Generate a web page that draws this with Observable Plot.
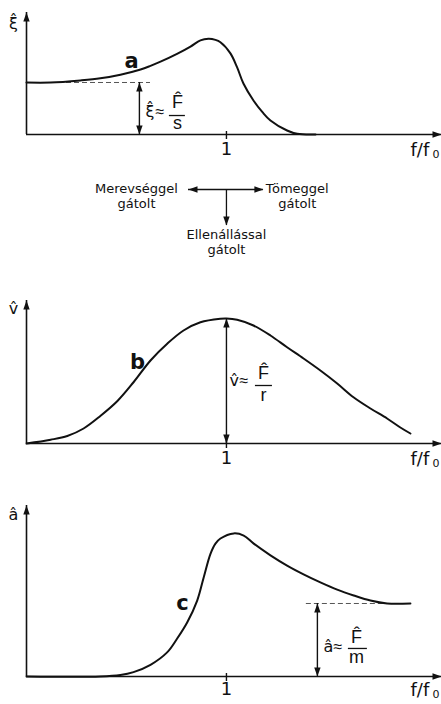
<!DOCTYPE html>
<html>
<head>
<meta charset="utf-8">
<script src="https://cdn.jsdelivr.net/npm/d3@7"></script>
<script src="https://cdn.jsdelivr.net/npm/@observablehq/plot@0.6"></script>
<style>
  html, body { margin: 0; padding: 0; background: #fff; }
  #chart { width: 441px; }
  #chart svg { display: block; }
</style>
</head>
<body>
<div id="chart"></div>
<script>
// Forced vibration response versus frequency ratio f/f0 (log axis).
// a: displacement amplitude, b: velocity amplitude, c: acceleration amplitude.
const fDisp = [0.1, 0.132, 0.186, 0.234, 0.295, 0.372, 0.417, 0.468, 0.566, 0.661, 0.741, 0.813, 0.881, 0.933, 1.047, 1.131, 1.216, 1.365, 1.514, 1.66, 2.01, 2.26, 2.79];
const dispAmp = [1.0, 1.0, 1.04, 1.08, 1.15, 1.25, 1.32, 1.40, 1.55, 1.69, 1.81, 1.84, 1.82, 1.775, 1.56, 1.29, 0.98, 0.654, 0.43, 0.27, 0.077, 0.013, 0];

const fVel = [0.1, 0.132, 0.16, 0.193, 0.234, 0.285, 0.343, 0.417, 0.507, 0.61, 0.741, 0.933, 1, 1.131, 1.365, 1.66, 2.01, 2.43, 2.95, 3.58, 4.32, 5.25, 6.36, 7.41, 8.32];
const velAmp = [0, 0.03, 0.06, 0.12, 0.22, 0.34, 0.49, 0.664, 0.80, 0.904, 0.97, 0.998, 1.0, 0.99, 0.944, 0.864, 0.77, 0.68, 0.584, 0.48, 0.37, 0.28, 0.2, 0.128, 0.08];

const fAcc = [0.1, 0.234, 0.295, 0.343, 0.417, 0.505, 0.567, 0.636, 0.714, 0.77, 0.832, 0.881, 0.933, 1.088, 1.22, 1.369, 1.66, 2.01, 2.43, 2.95, 3.58, 4.33, 5.25, 6.36, 8.32];
const accAmp = [0, 0, 0.02, 0.06, 0.16, 0.33, 0.52, 0.74, 1.04, 1.36, 1.68, 1.82, 1.89, 1.96, 1.93, 1.82, 1.66, 1.52, 1.40, 1.29, 1.19, 1.11, 1.04, 1.0, 1.0];

const tickValues = [1];
const tickLabels = ["1"];
const xLabel = "f/f";
const xLabelSub = "0";
const yLabels = ["ξ̂", "v̂", "â"];
const curveNames = ["a", "b", "c"];
const formulaSymbol = ["ξ̂", "v̂", "â"];
const formulaRel = "≈";
const formulaNum = "F̂";
const formulaDen = ["s", "r", "m"];
const regionLabels = ["Merevséggel\ngátolt", "Tömeggel\ngátolt", "Ellenállással\ngátolt"];

const W = 441;
const fMin = 0.1, fMax = 11.9;
const ink = "#111";
const FONT = "'DejaVu Sans', 'Liberation Sans', sans-serif";
const MATH = "'Liberation Sans', Arial, sans-serif";

// filled arrowhead with its tip at the origin, pointing up
const arrowHead = {
  draw(context) {
    context.moveTo(0, 0);
    context.lineTo(3.2, 9);
    context.lineTo(-3.2, 9);
    context.closePath();
  }
};

const rows = (xs, ys) => xs.map((f, i) => ({f, v: ys[i]}));

function heads(points) {
  return Plot.dot(points, {x: "f", y: "v", rotate: "a", symbol: arrowHead, r: 3, fill: ink, stroke: "none"});
}

function frame(yMax, labelDy) {
  return [
    Plot.ruleX([{f: fMin, y1: 0, y2: yMax}], {x: "f", y1: "y1", y2: "y2", stroke: ink, strokeWidth: 1.6}),
    Plot.ruleY([{v: 0, x1: fMin, x2: fMax}], {y: "v", x1: "x1", x2: "x2", stroke: ink, strokeWidth: 1.6}),
    heads([{f: fMin, v: yMax, a: 0}, {f: fMax, v: 0, a: 90}]),
    Plot.ruleX(tickValues.map(f => ({f, v: 0})), {x: "f", y1: "v", y2: "v", insetTop: -3, insetBottom: -5, stroke: ink, strokeWidth: 1.4}),
    Plot.text(tickValues.map((f, i) => ({f, v: 0, t: tickLabels[i]})), {x: "f", y: "v", text: "t", dy: labelDy, fontSize: 18}),
    Plot.text([{f: fMax, v: 0, t: xLabel}], {x: "f", y: "v", text: "t", textAnchor: "start", dx: -31, dy: labelDy + 1, fontSize: 18}),
    Plot.text([{f: fMax, v: 0, t: xLabelSub}], {x: "f", y: "v", text: "t", textAnchor: "start", dx: -9, dy: labelDy + 5, fontSize: 11})
  ];
}

function measure(f, v) {
  return [
    Plot.ruleX([{f, y1: 0, y2: v}], {x: "f", y1: "y1", y2: "y2", stroke: ink, strokeWidth: 1.4}),
    heads([{f, v, a: 0}, {f, v: 0, a: 180}])
  ];
}

function formula(i, f, v, o) {
  const at = [{f, v}];
  return [
    Plot.text(at, {x: "f", y: "v", text: () => formulaSymbol[i], textAnchor: "start", dx: o.dxL, dy: o.dyL, fontSize: 16}),
    Plot.text(at, {x: "f", y: "v", text: () => formulaRel, textAnchor: "start", dx: o.dxL + 10, dy: o.dyL, fontSize: 16, fontFamily: MATH}),
    Plot.text(at, {x: "f", y: "v", text: () => formulaNum, dx: o.dxF, dy: o.dyNum, fontSize: 18, fontFamily: MATH}),
    Plot.ruleY(at, {y: "v", x1: "f", x2: "f", insetLeft: o.barL, insetRight: -o.barR, stroke: ink, strokeWidth: 1.3}),
    Plot.text(at, {x: "f", y: "v", text: () => formulaDen[i], dx: o.dxF, dy: o.dyDen, fontSize: 18, fontFamily: MATH})
  ];
}

function panel(i, o) {
  return Plot.plot({
    width: W, height: o.height,
    marginLeft: 26, marginRight: 0, marginTop: o.marginTop, marginBottom: o.marginBottom,
    x: {type: "log", domain: [fMin, fMax], axis: null},
    y: {domain: [0, o.yMax], axis: null},
    style: {fontFamily: FONT, color: ink, background: "#fff", overflow: "visible"},
    marks: [
      ...frame(o.yMax, o.labelDy),
      Plot.text([{f: fMin, v: o.yMax, t: yLabels[i]}], {x: "f", y: "v", text: "t", dx: -13, dy: o.yLabelDy, fontSize: 16}),
      ...o.extra,
      Plot.line(o.data, {x: "f", y: "v", curve: "catmull-rom", stroke: ink, strokeWidth: 2}),
      Plot.text([{f: o.nameAt[0], v: o.nameAt[1], t: curveNames[i]}], {x: "f", y: "v", text: "t", fontSize: 21, fontWeight: "bold"})
    ]
  });
}

const chart = document.getElementById("chart");

// a: displacement, static level at low frequency
const staticLevel = dispAmp[0];
chart.append(panel(0, {
  height: 165, marginTop: 12, marginBottom: 31, yMax: 2.346, labelDy: 15,
  yLabelDy: 11, data: rows(fDisp, dispAmp), nameAt: [0.335, 1.40],
  extra: [
    Plot.ruleY([{v: staticLevel, x1: fMin, x2: 0.417}], {y: "v", x1: "x1", x2: "x2", stroke: "#555", strokeWidth: 1, strokeDasharray: "5,3"}),
    ...measure(0.367, staticLevel),
    ...formula(0, 0.367, 0.365, {dxL: 6, dyL: -4, dxF: 38, dyNum: -13, dyDen: 8, barL: 30, barR: 46})
  ]
}));

// region diagram: stiffness-, mass- and resistance-controlled
chart.append(Plot.plot({
  width: W, height: 120,
  marginLeft: 26, marginRight: 0, marginTop: 24, marginBottom: 0,
  x: {type: "log", domain: [fMin, fMax], axis: null},
  y: {domain: [-2.667, 0], axis: null},
  style: {fontFamily: FONT, color: ink, background: "#fff", overflow: "visible"},
  marks: [
    Plot.ruleY([{v: 0, x1: 0.646, x2: 1.53}], {y: "v", x1: "x1", x2: "x2", stroke: ink, strokeWidth: 1.3}),
    Plot.ruleX([{f: 1, y1: 0, y2: -1}], {x: "f", y1: "y1", y2: "y2", stroke: ink, strokeWidth: 1.3}),
    heads([{f: 0.646, v: 0, a: 270}, {f: 1.53, v: 0, a: 90}, {f: 1, v: -1, a: 180}]),
    Plot.text([{f: 0.355, v: 0, t: regionLabels[0]}, {f: 2.26, v: 0, t: regionLabels[1]}],
      {x: "f", y: "v", text: "t", lineAnchor: "top", lineHeight: 1.15, dy: -7, fontSize: 13}),
    Plot.text([{f: 1, v: -1, t: regionLabels[2]}],
      {x: "f", y: "v", text: "t", lineAnchor: "top", lineHeight: 1.15, dy: 3, fontSize: 13})
  ]
}));

// b: velocity, peak at resonance
const peakVel = d3.max(velAmp);
chart.append(panel(1, {
  height: 190, marginTop: 15, marginBottom: 32, yMax: 1.144, labelDy: 15,
  yLabelDy: 8, data: rows(fVel, velAmp), nameAt: [0.359, 0.648],
  extra: [
    ...measure(1, peakVel),
    ...formula(1, 1, 0.464, {dxL: 3, dyL: -5, dxF: 37, dyNum: -12, dyDen: 10, barL: 29, barR: 46})
  ]
}));

// c: acceleration, mass-controlled level at high frequency
const massLevel = accAmp[accAmp.length - 1];
chart.append(panel(2, {
  height: 229, marginTop: 30, marginBottom: 28, yMax: 2.342, labelDy: 13,
  yLabelDy: 9, data: rows(fAcc, accAmp), nameAt: [0.603, 1.0],
  extra: [
    Plot.ruleY([{v: massLevel, x1: 2.51, x2: fAcc[fAcc.length - 1]}], {y: "v", x1: "x1", x2: "x2", stroke: "#555", strokeWidth: 1, strokeDasharray: "5,3"}),
    ...measure(2.85, massLevel),
    ...formula(2, 2.85, 0.384, {dxL: 6, dyL: -2, dxF: 39, dyNum: -11, dyDen: 9, barL: 31, barR: 50})
  ]
}));
</script>
</body>
</html>
